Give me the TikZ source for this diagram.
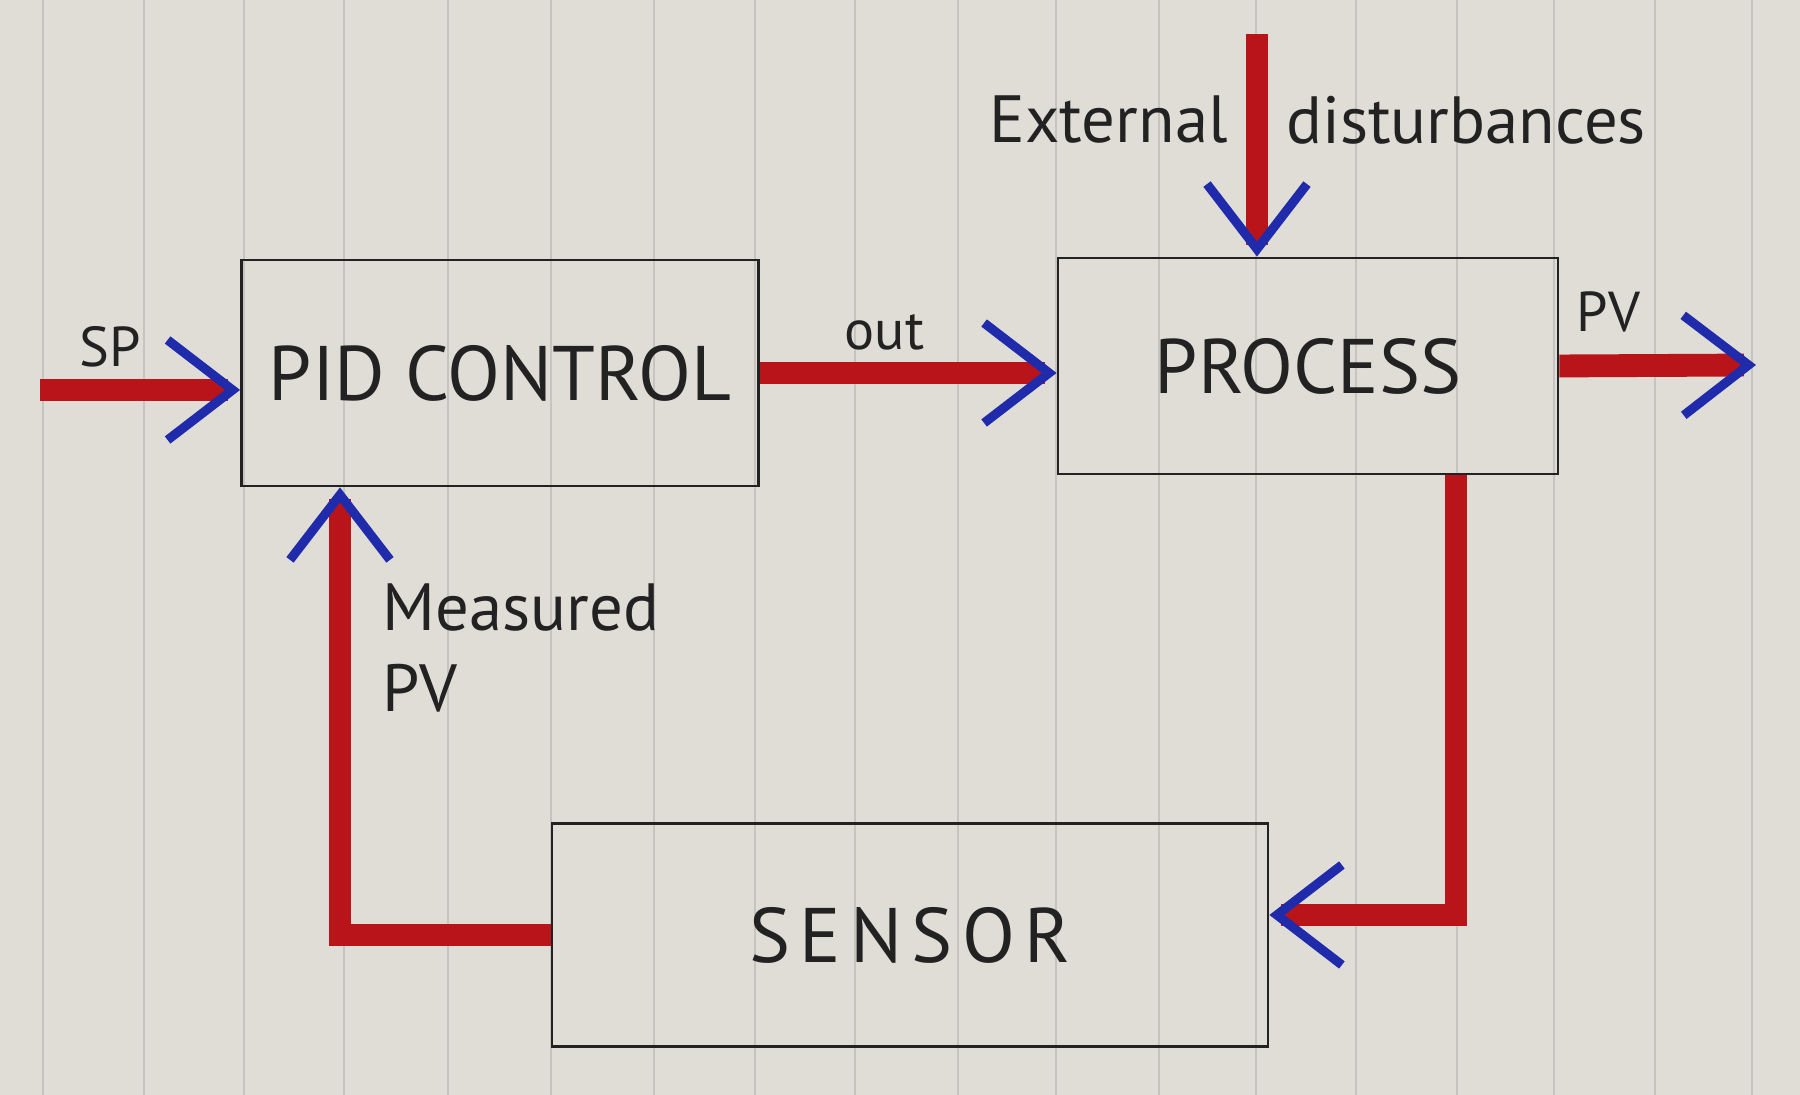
\documentclass[tikz,border=0pt]{standalone}
\usepackage{fontspec}
\setmainfont{PT Sans}
\usetikzlibrary{arrows.meta}
\usetikzlibrary{positioning}
\definecolor{paper}{HTML}{E0DDD6}
\definecolor{ruling}{HTML}{C6C4BE}
\definecolor{ink}{HTML}{222222}
\definecolor{marker1}{HTML}{B8141A}
\definecolor{marker2}{HTML}{1F2BAA}
\tikzset{>={Straight Barb[color = marker2, length = 6.5mm, width = 10mm, line width = 2.6pt]}}
\tikzset{block/.style = {draw = ink, line width = 0.8pt, text = ink, inner sep = 0pt,
    font = \fontsize{22}{26}\selectfont},
  signal/.style = {draw = marker1, line width = 6.5pt, ->},
  tag/.style = {text = ink, font = \fontsize{16}{19}\selectfont},
  note/.style = {text = ink, align = left, font = \fontsize{19}{23}\selectfont}}

\begin{document}
\begin{tikzpicture}

% paper
\fill[paper] (0, 0) rectangle (18, 10.95);
\useasboundingbox (0, 0) rectangle (18, 10.95);
\foreach \x in {0.43, 1.44, 2.44, 3.44, 4.48, 5.51, 6.54, 7.55, 8.55, 9.58, 10.56, 11.59, 12.56, 13.56, 14.57, 15.54, 16.55, 17.52}
  \draw[ruling, line width = 0.4pt] (\x, 0) -- (\x, 10.95);

% blocks
\node[block, minimum width = 5.17cm, minimum height = 2.26cm] (pid) at (5.0, 7.22) {PID CONTROL};
\node[block, minimum width = 5.0cm, minimum height = 2.16cm] (process) at (13.08, 7.29) {PROCESS};
\node[block, minimum width = 7.16cm, minimum height = 2.23cm] (sensor) at (9.10, 1.60) {\addfontfeature{LetterSpace = 12}SENSOR};

\coordinate (sp) at (0.40, 7.05);
\coordinate (pvend) at (17.56, 7.30);
\coordinate (dist) at (12.57, 10.61);
\coordinate (distlbl) at (12.57, 9.75);
\coordinate (fbr) at (14.56, 1.80);
\coordinate (fbl) at (3.40, 1.60);

% forward path
\draw[signal] (sp) -- (sp -| pid.west) node[tag, pos = 0.35, above = 0pt] (splbl) {SP};
\draw[signal] (pid.east) -- (pid.east -| process.west) node[tag, pos = 0.42, above = 0pt] (outlbl) {out};
\draw[signal] (process.east) -- (pvend) node[tag, pos = 0.25, above = 3pt] (pvlbl) {PV};

% disturbances
\draw[signal] (dist) -- (dist |- process.north);
\node[note, left = 0.17cm of distlbl] (extlbl) {External};
\node[note, right = 0.17cm of distlbl] (disturblbl) {disturbances};

% feedback
\draw[signal] (fbr |- process.south) -- (fbr) -- (fbr -| sensor.east);
\draw[signal] (sensor.west) -- (fbl) -- (fbl |- pid.south);
\node[note, anchor = west] (measlbl) at (3.70, 4.47) {Measured\\PV};

\end{tikzpicture}
\end{document}
